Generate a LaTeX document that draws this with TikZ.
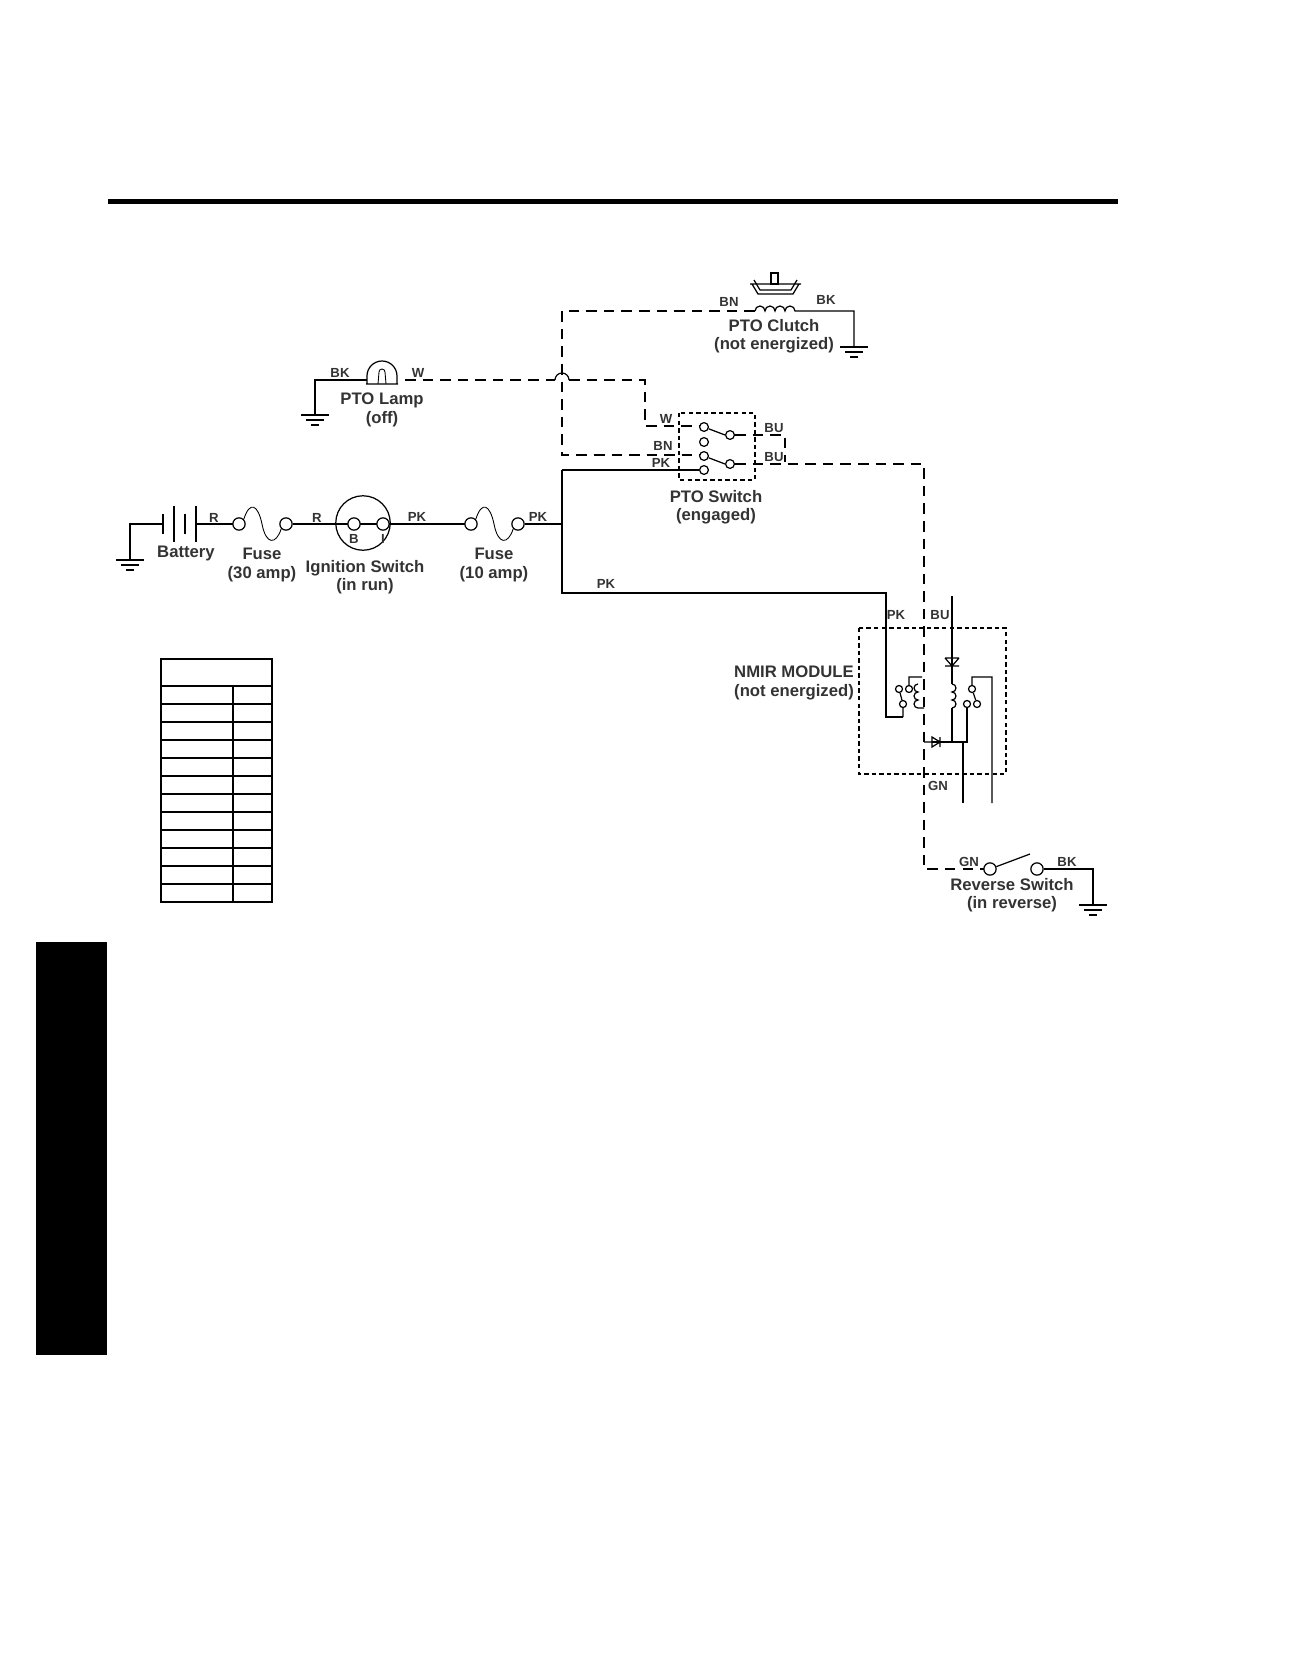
\documentclass[tikz,border=0pt]{standalone}
\usepackage{fontspec}
\setmainfont{Liberation Sans}
\begin{document}
\begin{tikzpicture}[x=0.02cm,y=-0.02cm,line width=0.7pt,
  lbl/.style={font=\bfseries\fontsize{9.5}{10.5}\selectfont,text=black!80,align=center,inner sep=0pt},
  wl/.style={font=\bfseries\fontsize{7.5}{8}\selectfont,text=black!80,inner sep=0pt},
  dsh/.style={dash pattern=on 6pt off 4pt},
  dbox/.style={dash pattern=on 2.5pt off 1.8pt},
  gnd/.pic={\draw (-14,0)--(14,0) (-9,5)--(9,5) (-4,10)--(4,10);},
  sc/.style={circle,draw,inner sep=0pt,minimum size=5pt,fill=white}]
\useasboundingbox (0,0) rectangle (1296,1656);
% header rule and side tab
\fill (108,199) rectangle (1118,204);
\fill (36,942) rectangle (107,1355);
% table
\draw[line width=0.6pt] (161,659) rectangle (272,902) (161,686)--(272,686) (233,686)--(233,902);
\foreach \i in {1,...,11} \draw[line width=0.6pt] (161,686+\i*18)--(272,686+\i*18);
% battery
\draw (130,560)--(130,524)--(163,524);
\pic at (130,560) {gnd};
\draw (163,514)--(163,534) (174,506)--(174,542) (185,514)--(185,534) (196,506)--(196,542);
\draw (196,524)--(235,524);
\node[wl] (r1) at (214,518) {R};
\node[lbl] (bat) at (186,553) {Battery};
% fuse 30
\node[sc,minimum size=7pt] (f1a) at (239,524) {};
\node[sc,minimum size=7pt] (f1b) at (286,524) {};
\draw[line width=0.5pt] (f1a.north east) .. controls (250,500) and (258,505) .. (262,524) .. controls (266,545) and (276,545) .. (f1b.south west);
\node[lbl] (fuse1) at (262,565) {Fuse\\(30 amp)};
\draw (f1b)--(337,524);
\node[wl] (r2) at (317,518) {R};
% ignition
\node[circle,draw,minimum size=31pt,inner sep=0pt] (ign) at (363,523) {};
\draw (337,524)--(389,524);
\node[sc,minimum size=7pt] (ib) at (354,524) {};
\node[sc,minimum size=7pt] (ii) at (383,524) {};
\node[wl] (lb) at (354,539) {B};
\node[wl] (li) at (383,539) {I};
\node[lbl] (ignl) at (365,577) {Ignition Switch\\(in run)};
\draw (389,524)--(467,524);
\node[wl] (pk1) at (417,517) {PK};
% fuse 10
\node[sc,minimum size=7pt] (f2a) at (471,524) {};
\node[sc,minimum size=7pt] (f2b) at (518,524) {};
\draw[line width=0.5pt] (f2a.north east) .. controls (482,500) and (490,505) .. (494,524) .. controls (498,545) and (508,545) .. (f2b.south west);
\node[lbl] (fuse2) at (494,565) {Fuse\\(10 amp)};
\draw (f2b)--(562,524);
\node[wl] (pk2) at (538,517) {PK};
% PK trunk
\coordinate (j) at (562,524);
\draw (562,470)--(562,593)--(886,593)--(886,717)--(903,717);
\node[wl] (pk3) at (606,584) {PK};
% PTO lamp
\draw (315,415)--(315,380)--(367,380);
\pic at (315,415) {gnd};
\draw (366,384)--(398,384) (367,384)--(367,376) arc (180:360:15) -- (397,384);
\draw[line width=0.5pt] (378,384)--(379,372) arc(180:360:3) -- (386,384);
\node[wl] (bk1) at (340,373) {BK};
\node[wl] (w1) at (418,373) {W};
\node[lbl] (lamp) at (382,410) {PTO Lamp\\(off)};
\draw[dsh] (405,380)--(555,380);
\draw (555,380) arc (180:360:7);
\draw[dsh] (569,380)--(645,380)--(645,426)--(704,426);
% PTO clutch
\draw[dsh] (755,311)--(562,311)--(562,455)--(704,455);
\draw (755,311) arc (180:360:5) arc (180:360:5) arc (180:360:5) arc (180:360:5) -- (854,311)--(854,347);
\pic at (854,347) {gnd};
\draw (771,273) rectangle (778,284);
\draw (750,284)--(801,284) (752,284)--(758,294)--(793,294)--(799,284);
\draw (754,280)--(760,290)--(791,290)--(797,280);
\node[wl] (bn1) at (729,302) {BN};
\node[wl] (bk2) at (826,300) {BK};
\node[lbl] (clutch) at (774,336) {PTO Clutch\\(not energized)};
% PTO switch
\draw[dbox] (679,413) rectangle (755,480);
\node[sc] (s1) at (704,427) {};
\node[sc] (s2) at (730,435) {};
\node[sc] (s3) at (704,442) {};
\node[sc] (s4) at (704,456) {};
\node[sc] (s5) at (730,464) {};
\node[sc] (s6) at (704,470) {};
\draw (s1)--(s2.west) (s4)--(s5.west);
\draw (562,470)--(s6);
\draw[dsh] (s2)--(785,435)--(785,462);
\draw[dsh] (s5)--(924,464)--(924,869)--(990,869);
\node[wl] (w2) at (666,419) {W};
\node[wl] (bn2) at (663,446) {BN};
\node[wl] (pk4) at (661,463) {PK};
\node[wl] (bu1) at (774,428) {BU};
\node[wl] (bu2) at (774,457) {BU};
\node[lbl] (ptos) at (716,507) {PTO Switch\\(engaged)};
% NMIR module
\draw[dbox] (859,628) rectangle (1006,774);
\node[lbl] (nmir) at (794,683) {NMIR MODULE\\(not energized)};
\node[wl] (pk5) at (896,615) {PK};
\node[wl] (bu3) at (940,615) {BU};
\node[wl] (gn1) at (938,786) {GN};
% left relay
\node[sc,minimum size=4pt] (c1) at (899,689) {};
\node[sc,minimum size=4pt] (c2) at (903,704) {};
\node[sc,minimum size=4pt] (c3) at (909,689) {};
\draw (c2)--(c1) (903,717)--(c2) (c3)--(909,677)--(922,677);
\draw (918,684) arc (270:90:4) arc (270:90:4) arc (270:90:4) -- (924,708);
% right side
\draw (952,596)--(952,684) (952,708)--(952,742) (932,742)--(967,742)--(967,704) (963,742)--(963,803);
\draw (945,658)--(959,658) (945,658)--(952,666)--(959,658) (945,666)--(959,666);
\draw (952,684) arc (-90:90:4) arc (-90:90:4) arc (-90:90:4);
\draw (924,742)--(932,742) (932,737)--(932,747)--(940,742)--cycle (940,737)--(940,747);
\node[sc,minimum size=4pt] (c4) at (972,689) {};
\node[sc,minimum size=4pt] (c5) at (977,704) {};
\node[sc,minimum size=4pt] (c6) at (967,704) {};
\draw (c5)--(c4) (c4)--(972,677)--(992,677)--(992,803);
% reverse switch
\node[sc,minimum size=7pt] (r1c) at (990,869) {};
\node[sc,minimum size=7pt] (r2c) at (1037,869) {};
\draw (r1c)--(1030,854);
\draw (r2c)--(1093,869)--(1093,905);
\pic at (1093,905) {gnd};
\node[wl] (gn2) at (969,862) {GN};
\node[wl] (bk3) at (1067,862) {BK};
\node[lbl] (rev) at (1012,895) {Reverse Switch\\(in reverse)};
\end{tikzpicture}
\end{document}
